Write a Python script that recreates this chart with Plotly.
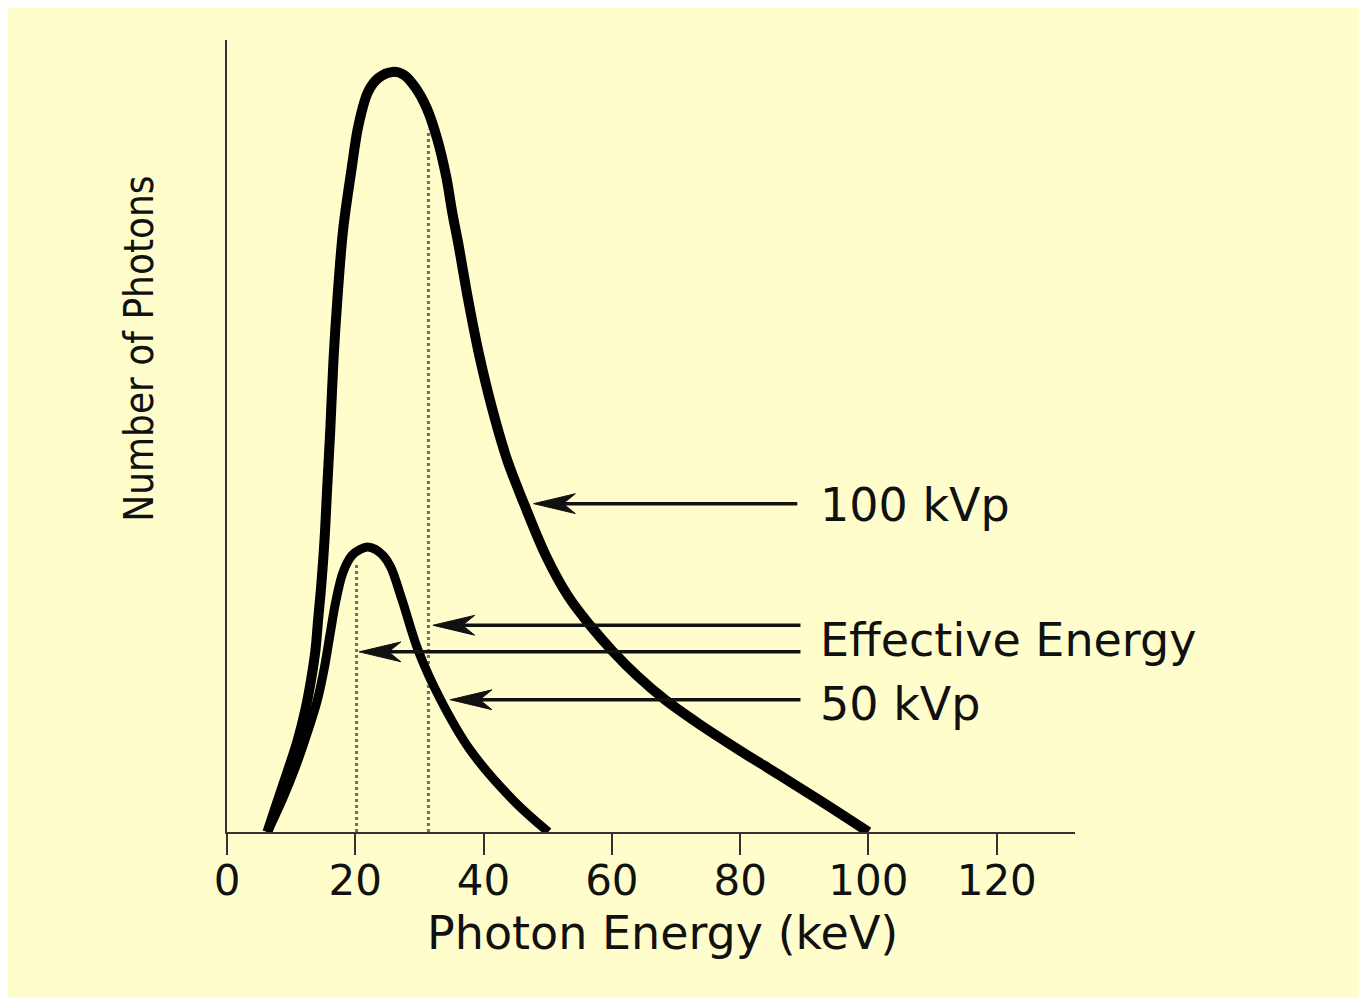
import plotly.graph_objects as go

# spectrum (energy in keV, photons in arbitrary units, 100 kVp peak = 100)
energy_100 = [6.3, 7.8, 9.4, 11.0, 12.2, 13.1, 13.8, 14.2, 14.7, 15.2, 15.6, 16.1, 16.6, 17.2,
              18.1, 19.4, 20.5, 22.0, 23.6, 25.8, 27.6, 29.4, 31.1, 32.8, 34.2, 35.1, 36.1,
              37.6, 39.3, 41.4, 43.7, 46.3, 49.8, 53.2, 56.6, 60.1, 64.0, 68.3, 73.8, 80.0,
              86.3, 92.5, 100]
photons_100 = [0, 3.8, 7.8, 12.0, 16.0, 20.0, 24.0, 27.9, 32.5, 38.4, 45.0, 52.9, 62.1, 70.0,
               79.2, 87.1, 93.0, 97.4, 99.2, 100, 99.6, 97.9, 95.3, 91.1, 86.1, 81.6, 77.2,
               70.0, 62.8, 55.5, 48.9, 43.2, 36.2, 31.0, 27.2, 23.8, 20.5, 17.4, 14.1, 10.7,
               7.4, 4.1, 0]

energy_50 = [6.3, 8.6, 10.7, 12.5, 14.1, 15.2, 16.1, 17.0, 18.1, 19.5, 20.8, 21.9, 23.1, 24.4,
             25.5, 27.3, 29.8, 33.3, 37.9, 44.6, 50.1]
photons_50 = [0, 4.2, 8.6, 13.0, 17.4, 21.7, 26.2, 30.5, 34.2, 36.4, 37.2, 37.5, 37.2, 36.3,
              34.9, 30.5, 23.9, 17.4, 10.8, 4.2, 0]

# effective energy markers (dotted verticals)
eff_energy = [20.2, 31.4]
eff_top = [35.4, 92.4]

# labels and their arrows
labels = ["100 kVp", "Effective Energy", "50 kVp"]
label_x = 92.1
label_y = [43.0, 25.2, 16.8]
arrow_tip_x = [47.8, 32.1, 20.6, 34.8]
arrow_tail_x = [88.9, 89.4, 89.4, 89.4]
arrow_y = [43.2, 27.2, 23.7, 17.4]

x_ticks = [0, 20, 40, 60, 80, 100, 120]

BG = "#FFFDCC"
INK = "#111111"
FONT = "DejaVu Sans, Verdana, sans-serif"

fig = go.Figure()

for e, top in zip(eff_energy, eff_top):
    fig.add_trace(go.Scatter(x=[e, e], y=[0, top], mode="lines",
                             line=dict(color="#6f6f62", width=3, dash="dot"),
                             showlegend=False, hoverinfo="skip"))

fig.add_trace(go.Scatter(x=energy_100, y=photons_100, mode="lines", name="100 kVp",
                         line=dict(color="black", width=10, shape="spline", smoothing=1.0)))
fig.add_trace(go.Scatter(x=energy_50, y=photons_50, mode="lines", name="50 kVp",
                         line=dict(color="black", width=9, shape="spline", smoothing=1.0)))

# arrows: shaft + notched head
head_len, head_back, head_half = 6.5, 4.6, 1.3
for tip, tail, y in zip(arrow_tip_x, arrow_tail_x, arrow_y):
    fig.add_shape(type="line", x0=tip + head_back, x1=tail, y0=y, y1=y,
                  line=dict(color=INK, width=3.5))
    fig.add_shape(type="path",
                  path=f"M {tip},{y} L {tip + head_len},{y + head_half} "
                       f"L {tip + head_back},{y} L {tip + head_len},{y - head_half} Z",
                  fillcolor=INK, line=dict(color=INK, width=1))

for txt, y in zip(labels, label_y):
    fig.add_annotation(x=label_x, y=y, text=txt, showarrow=False,
                       xanchor="left", yanchor="middle",
                       font=dict(family=FONT, size=46, color=INK))

# axis titles
fig.add_annotation(xref="paper", yref="paper", x=0.513, y=-0.128, text="Photon Energy (keV)",
                   showarrow=False, xanchor="center", yanchor="middle",
                   font=dict(family=FONT, size=46, color=INK))
fig.add_annotation(xref="paper", yref="paper", x=-0.104, y=0.61, text="Number of Photons",
                   showarrow=False, textangle=-90, xanchor="center", yanchor="middle",
                   font=dict(family="Liberation Sans Narrow, DejaVu Sans Condensed, Arial Narrow, sans-serif",
                             size=40, color=INK))

# yellow page
fig.add_shape(type="rect", xref="paper", yref="paper", layer="below",
              x0=-0.26, x1=1.336, y0=-0.22, y1=1.041,
              fillcolor=BG, line=dict(width=0))

fig.update_xaxes(range=[0, 132.2], tickvals=x_ticks, ticks="outside", ticklen=21,
                 tickwidth=2, tickcolor="#333", showline=True, linecolor="#333", linewidth=2,
                 showgrid=False, zeroline=False, automargin=False, ticklabelstandoff=-10,
                 tickfont=dict(family=FONT, size=42, color=INK))
fig.update_yaxes(range=[0, 104.2], showticklabels=False, ticks="", showline=True,
                 linecolor="#333", linewidth=2, showgrid=False, zeroline=False, automargin=False)

# the page body adds an 8px offset, so margins are shifted to compensate
fig.update_layout(
    width=1367, height=998,
    margin=dict(l=219, r=300, t=32, b=174),
    paper_bgcolor="white",
    plot_bgcolor="rgba(0,0,0,0)",
    showlegend=False,
)

fig.write_html("out.html")
